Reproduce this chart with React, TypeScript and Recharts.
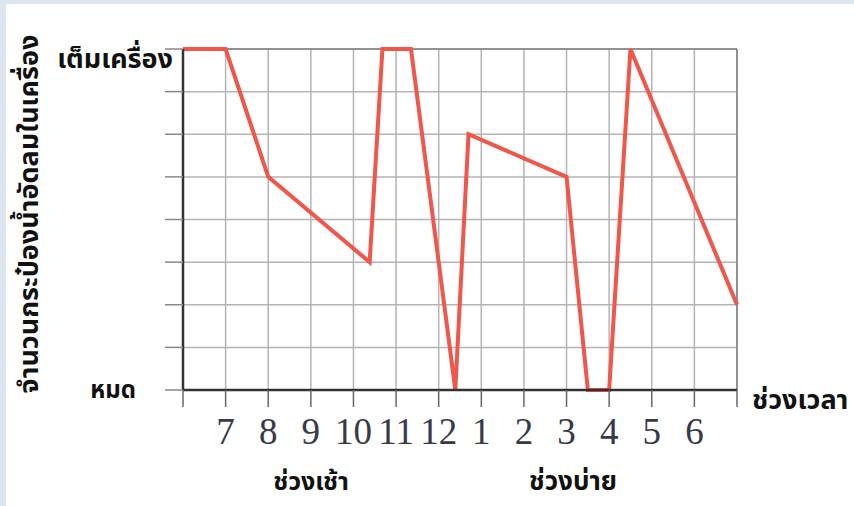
import React from "react";
import {
  LineChart,
  Line,
  XAxis,
  YAxis,
  CartesianGrid,
  ReferenceLine,
} from "recharts";

// time position along the axis (0 = axis start, 1 = 7 o'clock ... 12 = 6 o'clock)
const TIMES = [0, 1, 2, 4.38, 4.68, 5.35, 6.39, 6.7, 9, 9.5, 10, 10.5, 13];
// can level in the machine (0 = empty, 8 = full)
const LEVELS = [8, 8, 5, 3, 8, 8, 0, 6, 5, 0, 0, 8, 2];

const HOUR_LABELS = ["", "7", "8", "9", "10", "11", "12", "1", "2", "3", "4", "5", "6", ""];
const LEVEL_TICKS = [0, 1, 2, 3, 4, 5, 6, 7, 8];
const LEVEL_LABELS: Record<number, string> = { 8: "เต็มเครื่อง", 0: "หมด" };

const Y_TITLE = "จำนวนกระป๋องน้ำอัดลมในเครื่อง";
const X_TITLE = "ช่วงเวลา";
const MORNING = "ช่วงเช้า";
const AFTERNOON = "ช่วงบ่าย";

const data = TIMES.map((t, i) => ({ t, level: LEVELS[i] }));
const hourTicks = HOUR_LABELS.map((_, i) => i);

const THAI = "'Noto Sans Thai', 'Noto Sans Thai UI', 'Noto Sans', sans-serif";
const SERIF = "'Liberation Serif', 'DejaVu Serif', serif";

function HourTick(props: any) {
  const { x, y, payload } = props;
  return (
    <text
      x={x}
      y={y + 35}
      textAnchor="middle"
      fontFamily={SERIF}
      fontSize={37}
      fill="#383848"
    >
      {HOUR_LABELS[payload.value]}
    </text>
  );
}

function LevelTick(props: any) {
  const { x, y, payload } = props;
  const label = LEVEL_LABELS[payload.value];
  if (!label) return <g />;
  const top = payload.value === 8;
  return (
    <text
      x={x + (top ? 10 : -27)}
      y={y + (top ? 19 : 8)}
      textAnchor="end"
      fontFamily={THAI}
      fontWeight="bold"
      fontSize={top ? 27 : 24}
      fill="#111"
    >
      {label}
    </text>
  );
}

const textStyle: React.CSSProperties = {
  position: "absolute",
  fontFamily: THAI,
  fontWeight: "bold",
  fontSize: 25,
  color: "#111",
  whiteSpace: "nowrap",
  lineHeight: "30px",
};

export default function App() {
  return (
    <div
      style={{
        position: "absolute",
        left: 0,
        top: 0,
        width: 854,
        height: 506,
        background: "#dde5ef",
        overflow: "hidden",
      }}
    >
      <div
        style={{
          position: "absolute",
          left: 6,
          top: 4,
          width: 848,
          height: 502,
          background: "#ffffff",
        }}
      />
      <div style={{ position: "absolute", left: 0, top: 0 }}>
        <LineChart
          width={854}
          height={506}
          data={data}
          margin={{ top: 49, right: 117, left: 123, bottom: 56 }}
        >
          <CartesianGrid stroke="#b4b4b4" strokeWidth={1.5} />
          <XAxis
            dataKey="t"
            type="number"
            domain={[0, 13]}
            ticks={hourTicks}
            interval={0}
            height={60}
            tickSize={17}
            tick={<HourTick />}
            axisLine={{ stroke: "#333", strokeWidth: 2.5 }}
            tickLine={{ stroke: "#666", strokeWidth: 1.5 }}
          />
          <YAxis
            type="number"
            domain={[0, 8]}
            ticks={LEVEL_TICKS}
            interval={0}
            width={60}
            tickSize={18}
            tick={<LevelTick />}
            axisLine={{ stroke: "#333", strokeWidth: 2.5 }}
            tickLine={{ stroke: "#888", strokeWidth: 1.5 }}
          />
          <ReferenceLine y={8} stroke="#808080" strokeWidth={1.5} />
          <ReferenceLine x={13} stroke="#808080" strokeWidth={1.5} />
          <Line
            dataKey="level"
            type="linear"
            stroke="#f0564a"
            strokeWidth={4}
            dot={false}
            isAnimationActive={false}
          />
        </LineChart>
      </div>
      <div
        style={{
          ...textStyle,
          fontSize: 27,
          left: 30,
          top: 214,
          transform: "translate(-50%, -50%) rotate(-90deg)",
        }}
      >
        {Y_TITLE}
      </div>
      <div style={{ ...textStyle, fontSize: 27, left: 752, top: 386 }}>{X_TITLE}</div>
      <div style={{ ...textStyle, left: 311, top: 467, transform: "translateX(-50%)" }}>
        {MORNING}
      </div>
      <div style={{ ...textStyle, fontSize: 26, left: 573, top: 467, transform: "translateX(-50%)" }}>
        {AFTERNOON}
      </div>
    </div>
  );
}
